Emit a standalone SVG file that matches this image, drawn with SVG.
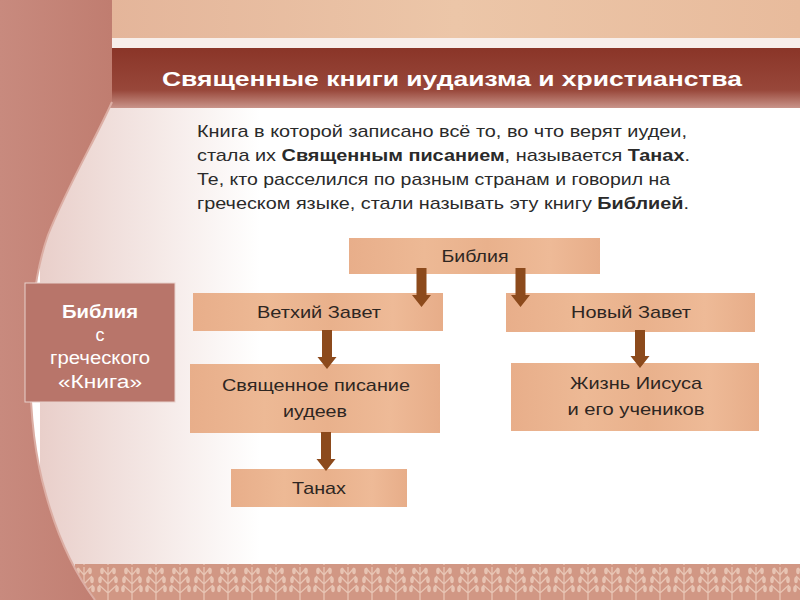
<svg xmlns="http://www.w3.org/2000/svg" width="800" height="600" viewBox="0 0 800 600">
<defs>
<linearGradient id="wood" x1="0" y1="0" x2="1" y2="0">
<stop offset="0" stop-color="#e8ae8a"/>
<stop offset="0.3" stop-color="#edb995"/>
<stop offset="0.55" stop-color="#e9b18c"/>
<stop offset="0.8" stop-color="#eeba97"/>
<stop offset="1" stop-color="#e7ad89"/>
</linearGradient>
<linearGradient id="topband" x1="0" y1="0" x2="1" y2="0">
<stop offset="0" stop-color="#e4b59a"/>
<stop offset="0.5" stop-color="#ecc6a8"/>
<stop offset="1" stop-color="#e8bb9c"/>
</linearGradient>
<linearGradient id="titleband" x1="0" y1="0" x2="0" y2="1">
<stop offset="0" stop-color="#8a3528"/>
<stop offset="0.7" stop-color="#98473a"/>
<stop offset="1" stop-color="#c9948a"/>
</linearGradient>
<linearGradient id="glow" x1="0" y1="0" x2="1" y2="0">
<stop offset="0" stop-color="#e9cfca"/>
<stop offset="0.6" stop-color="#f6ecea"/>
<stop offset="1" stop-color="#ffffff"/>
</linearGradient>
<linearGradient id="curtain" x1="0" y1="0" x2="1" y2="0">
<stop offset="0" stop-color="#c88a7e"/>
<stop offset="1" stop-color="#c07d70"/>
</linearGradient>
<pattern id="trees" x="0" y="565" width="24" height="36" patternUnits="userSpaceOnUse">
<rect width="24" height="36" fill="#d19784"/>
<path d="M12,36 V2 M12,10 L6,3 M12,10 L18,3 M12,19 L4,11 M12,19 L20,11 M12,28 L3,20 M12,28 L21,20" stroke="#e8c4b3" stroke-width="1.3" fill="none"/>
<ellipse cx="6" cy="6" rx="1.8" ry="3.2" fill="#e8c4b3"/>
<ellipse cx="18" cy="6" rx="1.8" ry="3.2" fill="#e8c4b3"/>
<ellipse cx="4" cy="15" rx="1.8" ry="3.2" fill="#e8c4b3"/>
<ellipse cx="20" cy="15" rx="1.8" ry="3.2" fill="#e8c4b3"/>
<ellipse cx="3" cy="24" rx="1.8" ry="3.2" fill="#e8c4b3"/>
<ellipse cx="21" cy="24" rx="1.8" ry="3.2" fill="#e8c4b3"/>
</pattern>
<style>
.box{fill:url(#wood);}
.lbl{font-family:"Liberation Sans",Arial,sans-serif;font-size:17px;fill:#2e2622;text-anchor:middle;}
.para{font-family:"Liberation Sans",Arial,sans-serif;font-size:17px;fill:#2a2a2a;}
.arrow{fill:#8c4a1c;}
.side{font-family:"Liberation Sans",Arial,sans-serif;font-size:18px;fill:#ffffff;text-anchor:middle;}
</style>
</defs>

<g id="background">
<rect x="0" y="0" width="800" height="600" fill="#ffffff"/>
<rect x="40" y="100" width="220" height="470" fill="url(#glow)"/>
<rect x="110" y="0" width="690" height="40" fill="url(#topband)"/>
<rect x="110" y="38" width="690" height="10" fill="#f7eeea"/>
<rect x="110" y="48" width="690" height="60" fill="url(#titleband)"/>
<rect x="75" y="564" width="725" height="36" fill="url(#trees)"/>
<path d="M0,0 H112 V102 C 95,140 68,185 48,235 C 25,300 24,420 46,495 C 60,545 80,580 95,600 H0 Z" fill="url(#curtain)"/>
<path d="M112,102 C 95,140 68,185 48,235 C 25,300 24,420 46,495 C 60,545 80,580 95,600" fill="none" stroke="#dcaea4" stroke-width="2"/>
<text x="452" y="86" font-family="'Liberation Sans',Arial,sans-serif" font-weight="bold" font-size="21" fill="#ffffff" text-anchor="middle" textLength="580" lengthAdjust="spacingAndGlyphs">Священные книги иудаизма и христианства</text>
<text class="para" x="197" y="137" textLength="490" lengthAdjust="spacingAndGlyphs">Книга в которой записано всё то, во что верят иудеи,</text>
<text class="para" x="197" y="161" textLength="493" lengthAdjust="spacingAndGlyphs">стала их <tspan font-weight="bold">Священным писанием</tspan>, называется <tspan font-weight="bold">Танах</tspan>.</text>
<text class="para" x="197" y="185" textLength="473" lengthAdjust="spacingAndGlyphs">Те, кто расселился по разным странам и говорил на</text>
<text class="para" x="197" y="209" textLength="492" lengthAdjust="spacingAndGlyphs">греческом языке, стали называть эту книгу <tspan font-weight="bold">Библией</tspan>.</text>
</g>

<g id="node-side">
<rect x="25" y="283" width="150" height="119" fill="#b8756a" stroke="#e8d2cc" stroke-width="1"/>
<text class="side" x="100" y="318" font-weight="bold" textLength="76" lengthAdjust="spacingAndGlyphs">Библия</text>
<text class="side" x="100" y="341">с</text>
<text class="side" x="100" y="364" textLength="100" lengthAdjust="spacingAndGlyphs">греческого</text>
<text class="side" x="100" y="388" textLength="84" lengthAdjust="spacingAndGlyphs">«Книга»</text>
</g>

<g id="node-bible">
<rect class="box" x="349" y="238" width="251" height="36"/>
<text class="lbl" x="475" y="262" textLength="67" lengthAdjust="spacingAndGlyphs">Библия</text>
</g>
<g id="node-ot">
<rect class="box" x="193" y="293" width="250" height="38"/>
<text class="lbl" x="319" y="318" textLength="124" lengthAdjust="spacingAndGlyphs">Ветхий Завет</text>
</g>
<g id="node-nt">
<rect class="box" x="506" y="293" width="249" height="39"/>
<text class="lbl" x="631" y="318" textLength="120" lengthAdjust="spacingAndGlyphs">Новый Завет</text>
</g>
<g id="node-scripture">
<rect class="box" x="190" y="364" width="250" height="69"/>
<text class="lbl" x="316" y="391" textLength="188" lengthAdjust="spacingAndGlyphs">Священное писание</text>
<text class="lbl" x="315" y="417" textLength="64" lengthAdjust="spacingAndGlyphs">иудеев</text>
</g>
<g id="node-jesus">
<rect class="box" x="511" y="363" width="248" height="68"/>
<text class="lbl" x="636" y="389" textLength="132" lengthAdjust="spacingAndGlyphs">Жизнь Иисуса</text>
<text class="lbl" x="636" y="415" textLength="137" lengthAdjust="spacingAndGlyphs">и его учеников</text>
</g>
<g id="node-tanakh">
<rect class="box" x="231" y="469" width="176" height="38"/>
<text class="lbl" x="319" y="494" textLength="54" lengthAdjust="spacingAndGlyphs">Танах</text>
</g>

<g id="connectors">
<polygon class="arrow" points="416.5,268 426.5,268 426.5,295 431,295 421.5,307 412,295 416.5,295"/>
<polygon class="arrow" points="515.5,268 525.5,268 525.5,295 530,295 520.5,307 511,295 515.5,295"/>
<polygon class="arrow" points="322,330 332,330 332,357 336.5,357 327,369 317.5,357 322,357"/>
<polygon class="arrow" points="635,330 645,330 645,356 649.5,356 640,368 630.5,356 635,356"/>
<polygon class="arrow" points="321,432 331,432 331,459 335.5,459 326,471 316.5,459 321,459"/>
</g>
</svg>
